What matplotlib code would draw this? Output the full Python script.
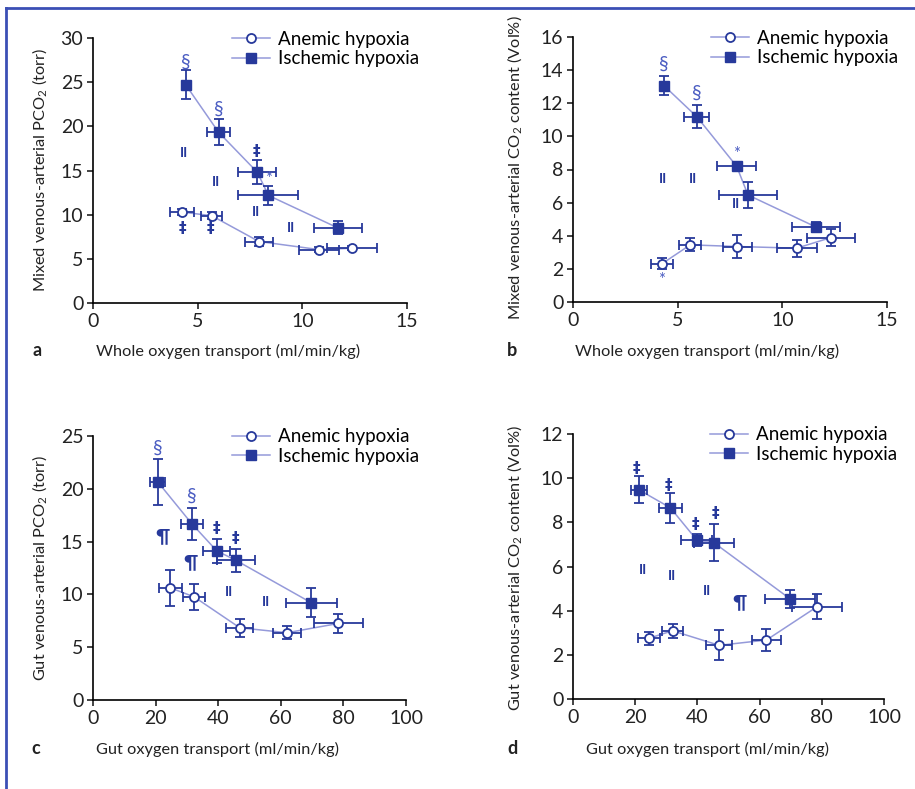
import numpy as np
import matplotlib
matplotlib.use('Agg')
import matplotlib.pyplot as plt
from matplotlib.lines import Line2D

plt.rcParams['font.family'] = ['Lato', 'DejaVu Sans']
plt.rcParams['mathtext.fontset'] = 'custom'
plt.rcParams['mathtext.rm'] = 'Lato'

# === Dados ===
# (a) PCO2 misto vs transporte total de O2
a_isc_x = [4.43, 6.0, 7.85, 8.38, 11.69]
a_isc_xe = [0.0, 0.56, 0.9, 1.43, 1.14]
a_isc_y = [24.7, 19.33, 14.8, 12.18, 8.51]
a_isc_ye = [1.65, 1.45, 1.35, 1.1, 0.75]
a_ane_x = [4.27, 5.67, 7.93, 10.78, 12.37]
a_ane_xe = [0.57, 0.5, 0.65, 0.96, 1.18]
a_ane_y = [10.29, 9.88, 6.96, 6.05, 6.2]
a_ane_ye = [0.3, 0.4, 0.5, 0.3, 0.2]

# (b) conteúdo de CO2 misto vs transporte total de O2
b_isc_x = [4.34, 5.92, 7.82, 8.36, 11.62]
b_isc_xe = [0.0, 0.6, 0.92, 1.4, 1.14]
b_isc_y = [13.07, 11.18, 8.19, 6.46, 4.52]
b_isc_ye = [0.58, 0.7, 0.2, 0.79, 0.3]
b_ane_x = [4.24, 5.6, 7.85, 10.69, 12.32]
b_ane_xe = [0.52, 0.52, 0.69, 0.95, 1.14]
b_ane_y = [2.3, 3.45, 3.35, 3.25, 3.89]
b_ane_ye = [0.33, 0.39, 0.67, 0.52, 0.53]

# (c) PCO2 intestinal vs transporte intestinal de O2
c_isc_x = [20.7, 31.6, 39.55, 45.6, 69.8]
c_isc_xe = [2.35, 3.5, 4.26, 6.1, 8.2]
c_isc_y = [20.65, 16.68, 14.12, 13.24, 9.2]
c_isc_ye = [2.15, 1.5, 1.15, 1.1, 1.37]
c_ane_x = [24.7, 32.3, 46.9, 62.0, 78.4]
c_ane_xe = [3.73, 3.46, 4.3, 4.6, 7.8]
c_ane_y = [10.62, 9.77, 6.84, 6.37, 7.25]
c_ane_ye = [1.7, 1.26, 0.83, 0.62, 0.87]

# (d) conteúdo de CO2 intestinal vs transporte intestinal de O2
d_isc_x = [21.1, 31.3, 39.8, 45.3, 69.85]
d_isc_xe = [2.6, 3.6, 5.0, 6.4, 8.1]
d_isc_y = [9.48, 8.66, 7.2, 7.08, 4.53]
d_isc_ye = [0.61, 0.67, 0.25, 0.85, 0.4]
d_ane_x = [24.4, 32.0, 47.0, 62.2, 78.5]
d_ane_xe = [3.5, 3.5, 4.2, 4.8, 8.0]
d_ane_y = [2.75, 3.09, 2.43, 2.67, 4.18]
d_ane_ye = [0.3, 0.31, 0.68, 0.5, 0.57]

# marcas de significância: (x, y, símbolo)
a_marks = [(4.43, 27.2, '§'), (6.0, 21.9, '§'), (7.82, 17.1, '‡'), (8.38, 14.0, '*'),
           (4.35, 17.0, '‖'), (5.86, 13.7, '‖'), (7.8, 10.3, '‖'), (9.44, 8.5, '‖'),
           (4.25, 8.4, '‡'), (5.6, 8.4, '‡')]
b_marks = [(4.34, 14.33, '§'), (5.92, 12.6, '§'), (7.82, 8.92, '*'), (4.29, 7.43, '‖'),
           (5.71, 7.43, '‖'), (7.79, 5.9, '‖'), (4.24, 1.31, '*')]
c_marks = [(20.7, 23.8, '§'), (31.6, 19.3, '§'), (39.55, 16.2, '‡'), (45.6, 15.3, '‡'),
           (22.2, 15.45, '¶'), (31.0, 13.0, '¶'), (43.5, 10.18, '‖'), (55.2, 9.3, '‖')]
d_marks = [(20.4, 10.46, '‡'), (30.8, 9.66, '‡'), (39.4, 7.9, '‡'), (45.7, 8.39, '‡'),
           (22.4, 5.86, '‖'), (31.8, 5.58, '‖'), (43.2, 4.88, '‖'), (53.6, 4.35, '¶')]

# === Estilo ===
dark = '#27399b'
light_line = '#959ada'
light_txt = '#4a5cc2'
tick_fs = 14
lab_fs = 11.8
leg_fs = 13.5

fig = plt.figure(figsize=(9.15, 7.89), dpi=100)
W, H = 915, 789


def px_axes(l, r, b, t):
    return fig.add_axes([l / W, 1 - b / H, (r - l) / W, (b - t) / H])


def painel(ax, ix, ixe, iy, iye, ax_, axe, ay, aye, marks, xmax, xstep, ymax, ystep, leg_x, leg_y):
    ax.plot(ax_, ay, color=light_line, lw=1.1, zorder=1)
    ax.plot(ix, iy, color=light_line, lw=1.1, zorder=1)
    ax.errorbar(ax_, ay, xerr=axe, yerr=aye, fmt='none', ecolor=dark, elinewidth=1.3,
                capsize=3.8, capthick=1.3, zorder=2)
    ax.errorbar(ix, iy, xerr=ixe, yerr=iye, fmt='none', ecolor=dark, elinewidth=1.3,
                capsize=3.8, capthick=1.3, zorder=2)
    ax.plot(ax_, ay, 'o', ms=6.5, mfc='white', mec=dark, mew=1.3, zorder=3)
    ax.plot(ix, iy, 's', ms=7.5, mfc=dark, mec=dark, zorder=3)
    for x, y, s in marks:
        if s in ('§', '*'):
            ax.text(x, y, s, color=light_txt, fontsize=14 if s == '§' else 12,
                    ha='center', va='center')
        elif s == '‖':
            ax.text(x, y, 'II', color=dark, fontsize=10, fontweight='bold', ha='center',
                    va='center')
        elif s == '¶':
            ax.text(x, y, s, color=dark, fontsize=14, fontweight='bold', ha='center',
                    va='center')
        else:
            ax.text(x, y, s, color=dark, fontsize=11, fontweight='bold', ha='center',
                    va='center', family=['DejaVu Sans'])
    ax.set_xlim(0, xmax)
    ax.set_ylim(0, ymax)
    ax.set_xticks(np.arange(0, xmax + 0.1, xstep))
    ax.set_yticks(np.arange(0, ymax + 0.1, ystep))
    for sp in ('top', 'right'):
        ax.spines[sp].set_visible(False)
    for sp in ('left', 'bottom'):
        ax.spines[sp].set_linewidth(1.2)
    ax.tick_params(direction='out', length=4, width=1.2, labelsize=tick_fs,
                   colors='#222222', pad=3)
    h1 = Line2D([], [], color=light_line, lw=1.1, marker='o', ms=6.5, mfc='white', mec=dark, mew=1.3)
    h2 = Line2D([], [], color=light_line, lw=1.1, marker='s', ms=7.5, mfc=dark, mec=dark)
    ax.legend([h1, h2], ['Anemic hypoxia', 'Ischemic hypoxia'], loc='center left',
              bbox_to_anchor=(leg_x, leg_y), frameon=False, fontsize=leg_fs, borderpad=0,
              borderaxespad=0, handlelength=2.03, handletextpad=0.43, labelspacing=0.12)


ax_a = px_axes(93, 407, 303, 38)
painel(ax_a, a_isc_x, a_isc_xe, a_isc_y, a_isc_ye, a_ane_x, a_ane_xe, a_ane_y, a_ane_ye,
       a_marks, 15, 5, 30, 5, 0.443, 0.958)
ax_b = px_axes(573, 887, 302, 37)
painel(ax_b, b_isc_x, b_isc_xe, b_isc_y, b_isc_ye, b_ane_x, b_ane_xe, b_ane_y, b_ane_ye,
       b_marks, 15, 5, 16, 2, 0.44, 0.958)
ax_c = px_axes(93, 406, 700, 436)
painel(ax_c, c_isc_x, c_isc_xe, c_isc_y, c_isc_ye, c_ane_x, c_ane_xe, c_ane_y, c_ane_ye,
       c_marks, 100, 20, 25, 5, 0.443, 0.96)
ax_d = px_axes(573, 884, 699, 434)
painel(ax_d, d_isc_x, d_isc_xe, d_isc_y, d_isc_ye, d_ane_x, d_ane_xe, d_ane_y, d_ane_ye,
       d_marks, 100, 20, 12, 2, 0.44, 0.96)

# rótulos dos eixos e letras dos painéis
def ftext(x, y, s, **kw):
    fig.text(x / W, 1 - y / H, s, ha='center', va='center', color='#222222', **kw)

ftext(228, 351, 'Whole oxygen transport (ml/min/kg)', fontsize=lab_fs)
ftext(707, 351, 'Whole oxygen transport (ml/min/kg)', fontsize=lab_fs)
ftext(218, 749, 'Gut oxygen transport (ml/min/kg)', fontsize=lab_fs)
ftext(708, 749, 'Gut oxygen transport (ml/min/kg)', fontsize=lab_fs)
ftext(40, 170, r'Mixed venous-arterial PCO$_\mathregular{2}$ (torr)', fontsize=lab_fs, rotation=90)
ftext(515, 168, r'Mixed venous-arterial CO$_\mathregular{2}$ content (Vol%)', fontsize=lab_fs, rotation=90)
ftext(40, 568, r'Gut venous-arterial PCO$_\mathregular{2}$ (torr)', fontsize=lab_fs, rotation=90)
ftext(515, 568, r'Gut venous-arterial CO$_\mathregular{2}$ content (Vol%)', fontsize=lab_fs, rotation=90)
for x, y, s in [(37, 350, 'a'), (512, 350, 'b'), (36, 748, 'c'), (512, 748, 'd')]:
    ftext(x, y, s, fontsize=13, fontweight='bold')

# moldura azul (esquerda e topo)
frame = '#3b4fb5'
fig.add_artist(Line2D([6 / W, 6 / W], [0, 1 - 7.5 / H], color=frame, lw=2))
fig.add_artist(Line2D([6 / W, 1], [1 - 7.5 / H, 1 - 7.5 / H], color=frame, lw=2))

fig.savefig('out.png', dpi=100)
